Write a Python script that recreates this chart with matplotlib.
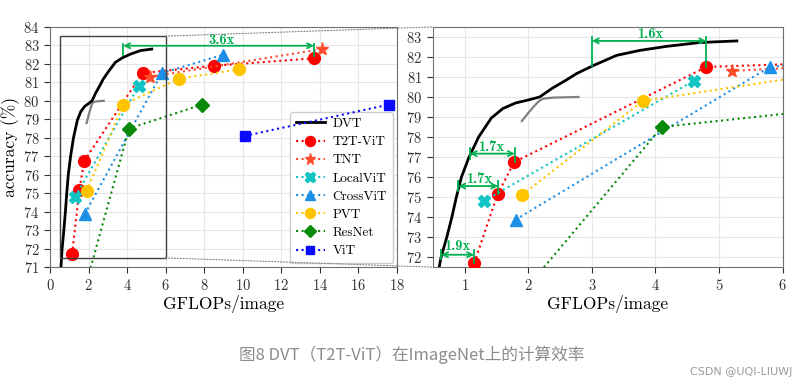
import numpy as np
import matplotlib.pyplot as plt
from matplotlib.patches import Rectangle, ConnectionPatch

plt.rcParams.update({'font.family': 'cmr10', 'axes.formatter.use_mathtext': True,
                     'mathtext.fontset': 'cm', 'font.size': 10})

# DATA
dvt_x = [0.57, 0.6, 0.63, 0.72, 0.8, 0.87, 0.95, 1.07, 1.22, 1.42, 1.6, 1.8, 2.0, 2.18,
         2.37, 2.6, 2.76, 3.03, 3.39, 3.76, 4.18, 4.7, 5.28]
dvt_y = [71.0, 71.5, 72.0, 73.0, 74.0, 75.0, 76.0, 77.0, 78.0, 78.95, 79.42, 79.7, 79.85, 80.0,
         80.42, 80.85, 81.17, 81.58, 82.08, 82.33, 82.53, 82.72, 82.8]
gray_x = [1.9, 2.0, 2.08, 2.17, 2.24, 2.4, 2.79]
gray_y = [78.8, 79.2, 79.5, 79.8, 79.92, 79.97, 80.0]

models = ['T2T-ViT', 'TNT', 'LocalViT', 'CrossViT', 'PVT', 'ResNet', 'ViT']
flops = {
    'T2T-ViT': [1.15, 1.52, 1.78, 4.8, 8.5, 13.7],
    'TNT': [5.2, 14.1],
    'LocalViT': [1.3, 4.6],
    'CrossViT': [1.8, 5.8, 9.0],
    'PVT': [1.9, 3.8, 6.7, 9.8],
    'ResNet': [1.8, 4.1, 7.9],
    'ViT': [10.1, 17.6],
}
acc = {
    'T2T-ViT': [71.7, 75.15, 76.75, 81.5, 81.9, 82.3],
    'TNT': [81.3, 82.8],
    'LocalViT': [74.8, 80.8],
    'CrossViT': [73.87, 81.5, 82.5],
    'PVT': [75.1, 79.8, 81.2, 81.7],
    'ResNet': [69.8, 78.5, 79.8],
    'ViT': [78.1, 79.8],
}
style = {
    'T2T-ViT': ('#ff0000', 'o', 8.5),
    'TNT': ('#ff4b2b', '*', 9.5),
    'LocalViT': ('#12c4c4', 'X', 8.5),
    'CrossViT': ('#1c8fe6', '^', 8.5),
    'PVT': ('#ffc400', 'o', 8.5),
    'ResNet': ('#0a8a0a', 'D', 7.5),
    'ViT': ('#0a0aff', 's', 7.5),
}
green = '#00b050'

fig = plt.figure(figsize=(8.06, 3.9), dpi=100)
ax1 = fig.add_axes([0.062, 0.315, 0.4305, 0.616])
ax2 = fig.add_axes([0.537, 0.315, 0.434, 0.616])


def draw(ax):
    ax.plot(dvt_x, dvt_y, color='black', lw=2, label='DVT', zorder=5)
    ax.plot(gray_x, gray_y, color='#808080', lw=1.6, zorder=4)
    for m in models:
        c, mk, ms = style[m]
        ax.plot(flops[m], acc[m], linestyle=':', lw=1.5, color=c, marker=mk, markersize=ms,
                label=m, zorder=6)
    ax.grid(True, color='#e6e6e6', lw=0.8)
    ax.set_axisbelow(True)
    for s in ax.spines.values():
        s.set_color('#707070')
    ax.tick_params(colors='#303030', length=4, labelsize=10.5)
    ax.set_xlabel('GFLOPs/image', fontsize=12.5, labelpad=2)


def gap(ax, x0, x1, y, bars, text, tx, ty):
    ax.annotate('', xy=(x1, y), xytext=(x0, y),
                arrowprops=dict(arrowstyle='<->', color=green, lw=1.3, shrinkA=0, shrinkB=0,
                                mutation_scale=9), zorder=8)
    for bx, (b0, b1) in zip((x0, x1), bars):
        ax.plot([bx, bx], [b0, b1], color=green, lw=1.3, zorder=8)
    ax.text(tx, ty, text, color=green, fontsize=10.5, fontfamily='cmb10',
            ha='center', va='center', zorder=9)


draw(ax1)
ax1.set_xlim(0, 18)
ax1.set_ylim(71, 84)
ax1.set_xticks(range(0, 19, 2))
ax1.set_yticks(range(71, 85))
ax1.set_ylabel('accuracy (%)', fontsize=12.5, labelpad=2)
ax1.add_patch(Rectangle((0.5, 71.5), 5.5, 12, fill=False, edgecolor='#404040', lw=1, zorder=7))
gap(ax1, 3.8, 13.7, 82.98, [(83.1, 82.5), (83.1, 82.4)], '3.6x', 8.9, 83.3)
ax1.legend(loc='lower right', fontsize=9.5, handlelength=2.2, borderpad=0.45,
           labelspacing=0.45, markerscale=0.85, handletextpad=0.6, borderaxespad=0.3,
           edgecolor='#cccccc', framealpha=1)

draw(ax2)
ax2.set_xlim(0.5, 6)
ax2.set_ylim(71.5, 83.5)
ax2.set_xticks(range(1, 7))
ax2.set_yticks(range(72, 84))
gap(ax2, 3.0, 4.8, 82.8, [(83.0, 81.55), (83.0, 81.5)], '1.6x', 3.92, 83.15)
gap(ax2, 1.08, 1.79, 77.17, [(77.45, 76.9), (77.45, 76.75)], '1.7x', 1.42, 77.5)
gap(ax2, 0.9, 1.53, 75.55, [(75.8, 75.3), (75.8, 75.15)], '1.7x', 1.23, 75.9)
gap(ax2, 0.63, 1.15, 72.12, [(72.35, 71.9), (72.35, 71.7)], '1.9x', 0.88, 72.55)

# zoom connection lines
for yy in (83.5, 71.5):
    con = ConnectionPatch(xyA=(6, yy), coordsA=ax1.transData, xyB=(0.5, yy), coordsB=ax2.transData,
                          linestyle=':', color='#808080', lw=0.8)
    fig.add_artist(con)

fig.text(0.511, 0.09, '图8 DVT（T2T-ViT）在ImageNet上的计算效率', fontsize=12, color='#8c8c8c',
         ha='center', va='center', family=['Noto Sans CJK SC', 'DejaVu Sans'])
fig.text(0.983, 0.045, 'CSDN @UQI-LIUWJ', fontsize=8, color='#9a9a9a', ha='right', va='center',
         family=['DejaVu Sans'])

fig.savefig('out.png', dpi=100)
